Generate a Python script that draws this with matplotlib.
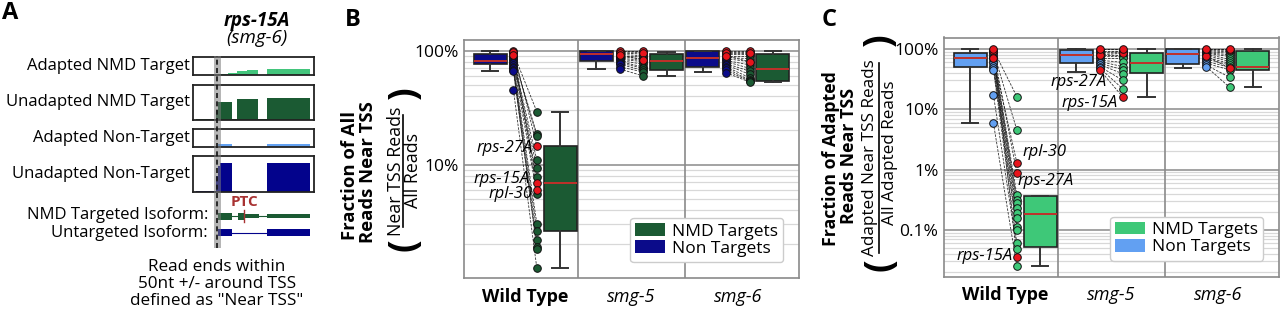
import matplotlib
matplotlib.use('Agg')
import matplotlib.pyplot as plt
from matplotlib.patches import Patch
from matplotlib.lines import Line2D
from matplotlib.ticker import FixedLocator, LogLocator, FuncFormatter, NullFormatter

plt.rcParams['font.family'] = ['Open Sans', 'DejaVu Sans']

# ---------------- data ----------------
# panel A: coverage tracks, (start, end, relative height) in gene coordinates 0-121
track_names = ['Adapted NMD Target', 'Unadapted NMD Target', 'Adapted Non-Target', 'Unadapted Non-Target']
cov_adapted_nmd = [(25, 34.7, 0.05), (34.7, 43.3, 0.13), (43.3, 54, 0.23), (54, 65, 0.29), (73.3, 116.7, 0.32)]
cov_unadapted_nmd = [(3, 23, 0.04), (23, 24.5, 0.3), (24.5, 38.3, 0.52), (38.3, 43.3, 0.03),
                     (43.3, 65, 0.6), (65, 73.3, 0.03), (73.3, 116.7, 0.62)]
cov_adapted_non = [(25, 38.3, 0.16), (73.3, 116.7, 0.18)]
cov_unadapted_non = [(3, 23, 0.03), (23, 24.5, 0.45), (24.5, 26.5, 0.72), (26.5, 38.3, 0.8), (73.3, 116.7, 0.8)]
tss_pos = 24
tss_window = 3.5
# isoforms
nmd_cds = [(25, 38.3), (44.3, 51)]
nmd_utr = [(51, 65.7), (73.3, 116.7)]
nmd_introns = [(38.3, 44.3), (65.7, 73.3)]
ptc_pos = 51
untargeted_exons = [(25, 38.3), (73.3, 116.7)]
untargeted_introns = [(38.3, 73.3)]

groups = ['Wild Type', 'smg-5', 'smg-6']
highlight = ['rps-27A', 'rps-15A', 'rpl-30']   # first three genes of every list below

# panel B: fraction of all reads near TSS, per gene (non-target isoform, NMD target isoform)
b_non_wt = [1.00, 0.97, 0.92, 0.95, 0.90, 0.88, 0.85, 0.82, 0.80, 0.78, 0.75, 0.72, 0.70, 0.68, 0.66, 0.45]
b_tgt_wt = [0.145, 0.069, 0.060, 0.291, 0.184, 0.178, 0.109, 0.0935, 0.078, 0.0557, 0.0303, 0.026, 0.0216, 0.019, 0.0183, 0.0123]
b_non_s5 = [1.00, 0.95, 0.92, 0.98, 0.96, 0.93, 0.90, 0.88, 0.86, 0.84, 0.82, 0.80, 0.78, 0.76, 0.72, 0.69]
b_tgt_s5 = [1.00, 0.96, 0.83, 0.97, 0.93, 0.90, 0.88, 0.85, 0.82, 0.80, 0.76, 0.72, 0.70, 0.67, 0.65, 0.60]
b_non_s6 = [1.00, 0.95, 0.90, 0.97, 0.93, 0.90, 0.87, 0.85, 0.82, 0.80, 0.77, 0.75, 0.72, 0.70, 0.67, 0.64]
b_tgt_s6 = [1.00, 0.95, 0.80, 0.97, 0.93, 0.90, 0.85, 0.80, 0.75, 0.70, 0.66, 0.62, 0.58, 0.55, 0.54, 0.53]
# box stats, order: WT non, WT tgt, smg-5 non, smg-5 tgt, smg-6 non, smg-6 tgt
b_whislo = [0.667, 0.0123, 0.695, 0.60, 0.65, 0.527]
b_q1 = [0.76, 0.026, 0.81, 0.67, 0.72, 0.54]
b_med = [0.817, 0.069, 0.93, 0.817, 0.857, 0.69]
b_q3 = [0.935, 0.145, 1.0, 0.93, 1.0, 0.935]
b_whishi = [1.0, 0.289, 1.0, 0.974, 1.0, 1.0]

# panel C: fraction of adapted reads near TSS
c_non_wt = [0.92, 1.00, 0.70, 0.97, 0.90, 0.85, 0.80, 0.75, 0.70, 0.62, 0.58, 0.52, 0.48, 0.45, 0.172, 0.0585]
c_tgt_wt = [0.00867, 0.00036, 0.013, 0.162, 0.0454, 0.0038, 0.00316, 0.00275, 0.00229, 0.0019, 0.00155,
            0.00112, 0.0010, 0.0006, 0.00049, 0.000251]
c_non_s5 = [0.795, 0.45, 1.00, 0.98, 0.93, 0.88, 0.85, 0.80, 0.745, 0.70, 0.65, 0.615, 0.58, 0.55, 0.51, 0.48]
c_tgt_s5 = [0.85, 0.157, 1.00, 0.97, 0.93, 0.90, 0.87, 0.80, 0.75, 0.70, 0.60, 0.51, 0.45, 0.385, 0.30, 0.215]
c_non_s6 = [0.95, 0.765, 1.00, 0.98, 0.93, 0.90, 0.87, 0.85, 0.82, 0.78, 0.72, 0.68, 0.62, 0.58, 0.54, 0.51]
c_tgt_s6 = [0.97, 0.48, 1.00, 0.95, 0.90, 0.85, 0.80, 0.75, 0.675, 0.62, 0.58, 0.543, 0.50, 0.45, 0.34, 0.232]
c_whislo = [0.0585, 0.000251, 0.42, 0.162, 0.49, 0.232]
c_q1 = [0.51, 0.000527, 0.58, 0.395, 0.557, 0.449]
c_med = [0.70, 0.00181, 0.795, 0.593, 0.826, 0.51]
c_q3 = [0.85, 0.0037, 0.96, 0.85, 1.0, 0.94]
c_whishi = [1.0, 0.0037, 1.0, 1.0, 1.0, 1.0]

# ---------------- layout helpers ----------------
W, H = 1280, 309
fig = plt.figure(figsize=(W / 100, H / 100), dpi=100)


def rect(l, t, r, b):
    return [l / W, 1 - b / H, (r - l) / W, (b - t) / H]


def ftext(x, y, s, **kw):
    return fig.text(x / W, 1 - y / H, s, **kw)


RED = '#e8141c'
PTC_RED = '#a83232'

# ---------------- panel A ----------------
ftext(2, 13, 'A', fontsize=17, fontweight='bold', va='center', ha='left')
ftext(257, 21, 'rps-15A', fontsize=13.5, fontweight='bold', style='italic', ha='center', va='center')
ftext(257, 38, '(smg-6)', fontsize=13.5, style='italic', ha='center', va='center')

track_rows = [(56.7, 75), (85, 120), (129, 147.3), (156, 191.7)]
track_cov = [cov_adapted_nmd, cov_unadapted_nmd, cov_adapted_non, cov_unadapted_non]
track_colors = ['#43c57c', '#1b5a33', '#64a2f2', '#03038c']
for name, (t, b), cov, col in zip(track_names, track_rows, track_cov, track_colors):
    ax = fig.add_axes(rect(193.3, t, 314.3, b))
    ax.bar([s for s, e, h in cov], [h for s, e, h in cov], width=[e - s for s, e, h in cov],
           align='edge', color=col, lw=0)
    ax.set_xlim(0, 121)
    ax.set_ylim(0, 1)
    ax.set_xticks([])
    ax.set_yticks([])
    for sp in ax.spines.values():
        sp.set_color('#222')
        sp.set_linewidth(1.3)
    ftext(190, (t + b) / 2, name, fontsize=12, ha='right', va='center')

# isoforms
axI = fig.add_axes(rect(193.3, 205, 314.3, 242))
axI.set_xlim(0, 121)
axI.set_ylim(1.56, -0.66)
axI.axis('off')
dkgreen, dkblue = '#1b5a33', '#03038c'
axI.barh([0] * len(nmd_cds), [e - s for s, e in nmd_cds], left=[s for s, e in nmd_cds], height=0.42, color=dkgreen)
axI.barh([0] * len(nmd_utr), [e - s for s, e in nmd_utr], left=[s for s, e in nmd_utr], height=0.28, color=dkgreen)
for s, e in nmd_introns:
    axI.plot([s, e], [0, 0], color=dkgreen, lw=0.8)
axI.plot([ptc_pos, ptc_pos], [-0.35, 0.35], color=PTC_RED, lw=1.0)
axI.barh([1] * len(untargeted_exons), [e - s for s, e in untargeted_exons],
         left=[s for s, e in untargeted_exons], height=0.44, color=dkblue)
for s, e in untargeted_introns:
    axI.plot([s, e], [1, 1], color=dkblue, lw=0.8)
ftext(245, 202, 'PTC', fontsize=11, fontweight='bold', color=PTC_RED, ha='center', va='center')
ftext(208, 215, 'NMD Targeted Isoform:', fontsize=12, ha='right', va='center')
ftext(208, 233, 'Untargeted Isoform:', fontsize=12, ha='right', va='center')

# TSS window overlay
axT = fig.add_axes(rect(193.3, 56, 314.3, 248))
axT.set_xlim(0, 121)
axT.set_ylim(0, 1)
axT.axis('off')
axT.axvspan(tss_pos - tss_window, tss_pos + tss_window, color='#7a7a7a', alpha=0.55, lw=0)
axT.axvline(tss_pos, color='#111', lw=1.2, ls=(0, (3, 2)))

ftext(217, 284, 'Read ends within\n50nt +/- around TSS\ndefined as "Near TSS"', fontsize=12.3,
      ha='center', va='center', linespacing=1.12)


# ---------------- panels B and C ----------------
def box_panel(ax, non_groups, tgt_groups, whislo, q1, med, q3, whishi, c_non, c_tgt, ylim, major):
    ax.set_yscale('log')
    ax.set_xlim(-0.575, 2.575)
    ax.set_ylim(*ylim)
    stats = [dict(whislo=whislo[k], q1=q1[k], med=med[k], q3=q3[k], whishi=whishi[k], fliers=[])
             for k in range(6)]
    pos = [g + d for g in range(3) for d in (-0.33, 0.33)]
    art = ax.bxp(stats, positions=pos, widths=0.31, patch_artist=True, showfliers=False,
                 manage_ticks=False, zorder=2,
                 boxprops=dict(edgecolor='#222', lw=1.2),
                 whiskerprops=dict(color='#333', lw=1.4),
                 capprops=dict(color='#333', lw=1.4),
                 medianprops=dict(color='#c0302a', lw=1.4))
    for k, patch in enumerate(art['boxes']):
        patch.set_facecolor(c_non if k % 2 == 0 else c_tgt)

    for g, (lv, rv) in enumerate(zip(non_groups, tgt_groups)):
        xl, xr = g - 0.11, g + 0.11
        for a, b in zip(lv, rv):
            ax.plot([xl, xr], [a, b], ls=(0, (3, 1.5)), lw=0.6, color='#111', alpha=0.85, zorder=3)
        n = len(highlight)
        ax.scatter([xl] * (len(lv) - n), lv[n:], s=30, c=c_non, edgecolors='#111', linewidths=0.7, zorder=4)
        ax.scatter([xr] * (len(rv) - n), rv[n:], s=30, c=c_tgt, edgecolors='#111', linewidths=0.7, zorder=4)
        ax.scatter([xl] * n, lv[:n], s=30, c=RED, edgecolors='#111', linewidths=0.7, zorder=5)
        ax.scatter([xr] * n, rv[:n], s=30, c=RED, edgecolors='#111', linewidths=0.7, zorder=5)

    ax.yaxis.set_major_locator(FixedLocator(major))
    ax.yaxis.set_minor_locator(LogLocator(base=10, subs=range(2, 10), numticks=30))
    ax.yaxis.set_minor_formatter(NullFormatter())
    ax.yaxis.set_major_formatter(FuncFormatter(lambda v, p: f'{v * 100:g}%'))
    ax.grid(True, which='major', axis='y', color='#a3a3a3', lw=1.4)
    ax.grid(True, which='minor', axis='y', color='#d8d8d8', lw=0.9)
    ax.set_axisbelow(True)
    ax.tick_params(which='both', length=0, labelsize=12.5, pad=4)
    for xv in (0.5, 1.5):
        ax.axvline(xv, color='#8a8a8a', lw=1.2, zorder=1)
    for sp in ax.spines.values():
        sp.set_color('#8a8a8a')
        sp.set_linewidth(1.2)
    ax.set_xticks(range(3))
    ax.set_xticklabels(groups, fontsize=13)
    ax.tick_params(axis='x', pad=7)
    labs = ax.get_xticklabels()
    labs[0].set_fontweight('bold')
    labs[1].set_style('italic')
    labs[2].set_style('italic')
    ax.legend(handles=[Patch(facecolor=c_tgt, label='NMD Targets'), Patch(facecolor=c_non, label='Non Targets')],
              loc='lower right', bbox_to_anchor=(1 - 16 / 335, 16 / 238), borderaxespad=0,
              fontsize=12.5, handlelength=1.7, handleheight=0.75, labelspacing=0.05, borderpad=0.3,
              handletextpad=0.4, framealpha=1, edgecolor='#cccccc', fancybox=True)


axB = fig.add_axes(rect(464, 40, 799, 278))
box_panel(axB, [b_non_wt, b_non_s5, b_non_s6], [b_tgt_wt, b_tgt_s5, b_tgt_s6],
          b_whislo, b_q1, b_med, b_q3, b_whishi, '#0b0b8a', '#1b5a33', (0.0101, 1.24), [0.1, 1.0])
for txt, x, y in [('rps-27A', 0.074, 0.139), ('rps-15A', 0.046, 0.075), ('rpl-30', 0.065, 0.055)]:
    axB.text(x, y, txt, fontsize=12, style='italic', ha='right', va='center', zorder=6)

axC = fig.add_axes(rect(944, 37.5, 1279, 276.7))
box_panel(axC, [c_non_wt, c_non_s5, c_non_s6], [c_tgt_wt, c_tgt_s5, c_tgt_s6],
          c_whislo, c_q1, c_med, c_q3, c_whishi, '#62a0f2', '#3ec878', (1.67e-4, 1.55), [0.001, 0.01, 0.1, 1.0])
for txt, x, y, ha in [('rpl-30', 0.159, 0.0196, 'left'), ('rps-27A', 0.121, 0.00647, 'left'),
                      ('rps-15A', 0.074, 0.000369, 'right'), ('rps-27A', 0.958, 0.284, 'right'),
                      ('rps-15A', 1.062, 0.127, 'right')]:
    axC.text(x, y, txt, fontsize=12, style='italic', ha=ha, va='center', zorder=6)

# y labels with fraction
ftext(353, 20, 'B', fontsize=17, fontweight='bold', va='center', ha='center')
ftext(350, 176, 'Fraction of All', fontsize=13.3, fontweight='bold', rotation=90, ha='center', va='center')
ftext(368, 172, 'Reads Near TSS', fontsize=13.3, fontweight='bold', rotation=90, ha='center', va='center')
ftext(396, 171, 'Near TSS Reads', fontsize=12.8, rotation=90, ha='center', va='center')
ftext(413, 170, 'All Reads', fontsize=12.8, rotation=90, ha='center', va='center')
fig.add_artist(Line2D([403 / W, 403 / W], [1 - 115 / H, 1 - 227 / H], color='k', lw=1.2))
ftext(405, 93, ')', fontsize=27, fontweight='bold', rotation=90, ha='center', va='center')
ftext(405, 245, '(', fontsize=27, fontweight='bold', rotation=90, ha='center', va='center')

ftext(829, 20, 'C', fontsize=17, fontweight='bold', va='center', ha='center')
ftext(831, 159, 'Fraction of Adapted', fontsize=12.8, fontweight='bold', rotation=90, ha='center', va='center')
ftext(849, 156, 'Reads Near TSS', fontsize=12.8, fontweight='bold', rotation=90, ha='center', va='center')
ftext(870, 158, 'Adapted Near TSS Reads', fontsize=12.3, rotation=90, ha='center', va='center')
ftext(890, 153, 'All Adapted Reads', fontsize=12.3, rotation=90, ha='center', va='center')
fig.add_artist(Line2D([879 / W, 879 / W], [1 - 63 / H, 1 - 253 / H], color='k', lw=1.2))
ftext(880, 40, ')', fontsize=27, fontweight='bold', rotation=90, ha='center', va='center')
ftext(880, 265, '(', fontsize=27, fontweight='bold', rotation=90, ha='center', va='center')

fig.savefig('out.png', dpi=100)
